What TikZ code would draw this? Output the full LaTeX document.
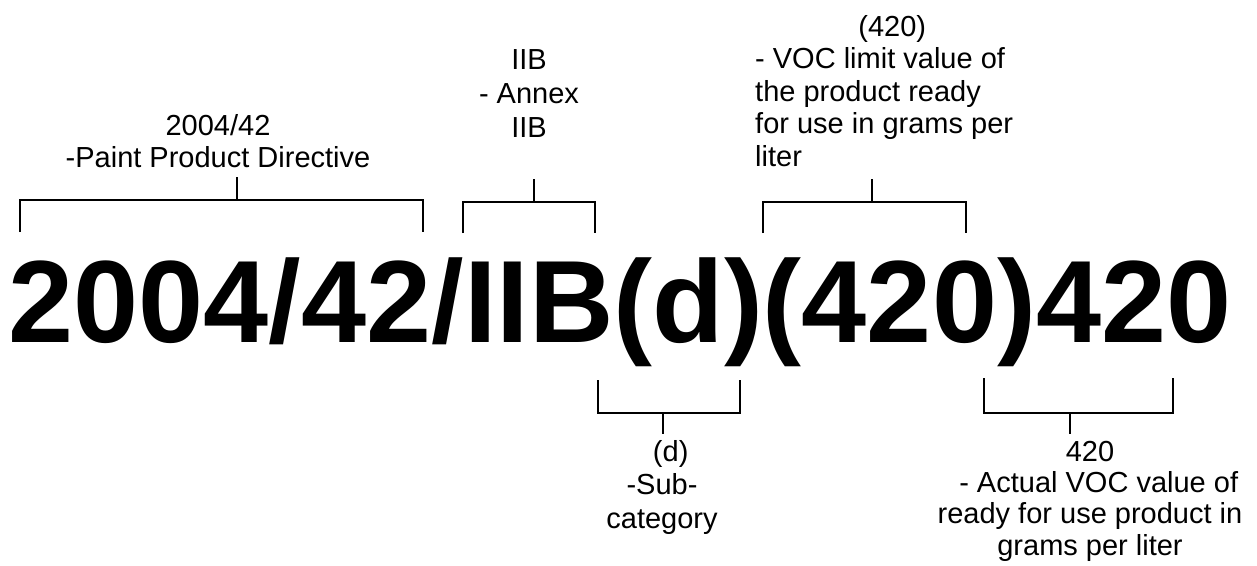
\documentclass[tikz,border=0pt]{standalone}
\usepackage{fontspec}
\setmainfont{Liberation Sans}
\begin{document}
\begin{tikzpicture}[x=1pt,y=-1pt,
  lbl/.style={font=\fontsize{29}{#1}\selectfont,inner sep=0pt,anchor=base},
  brace/.style={line width=2.2pt}]
\useasboundingbox (0,0) rectangle (1257,565);
\node[inner sep=0pt,anchor=base,font=\fontsize{117}{120}\selectfont\bfseries] (code) at (620,342) {2004/42/IIB(d)(420)420};
% labels (placed at the baseline of their last line)
\node[lbl=31.7,align=center] (dir) at (218,167) {2004/42\\-Paint Product Directive};
\node[lbl=34,align=center] (annex) at (529,137) {IIB\\- Annex\\IIB};
\node[lbl=32.5,align=left,anchor=base west] (limit) at (755,166) {\makebox[274pt]{(420)}\\- VOC limit value of\\the product ready\\for use in grams per\\liter};
\node[lbl=33.3,align=center] (subcat) at (662,528) {\hspace*{0.6em}(d)\\-Sub-\\category};
\node[lbl=31.3,align=center] (actual) at (1090,555) {420\\\hspace*{0.6em}- Actual VOC value of\\ready for use product in\\grams per liter};
% brackets
\foreach \n/\xl/\xr/\yt/\yb/\xs/\ye in {a/20/423/232/200/237/177,b/463/595/233/202/534/179,c/763/966/233/202/872/179,d/598/740/380/413/663/434,e/984/1173/378/413/1070/434}{
  \coordinate (\n-l) at (\xl,\yt);\coordinate (\n-r) at (\xr,\yt);
  \coordinate (\n-m) at (\xs,\yb);\coordinate (\n-s) at (\xs,\ye);
  \draw[brace] (\n-l) |- (\n-m) -| (\n-r);
  \draw[brace] (\n-m) -- (\n-s);
}
\end{tikzpicture}
\end{document}
